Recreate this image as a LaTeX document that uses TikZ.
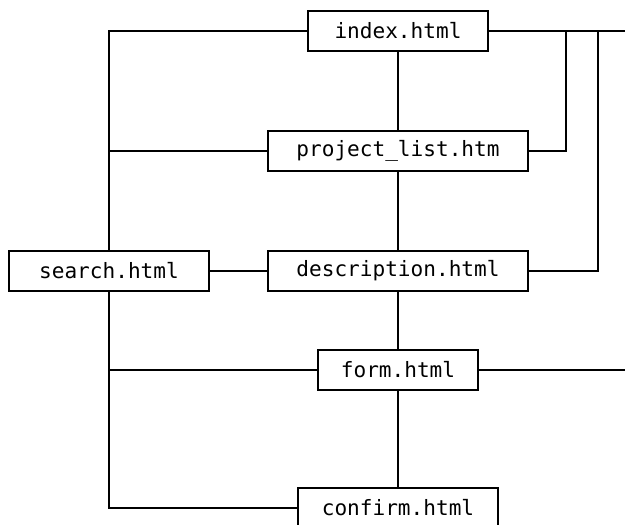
\documentclass[tikz,border=0pt]{standalone}
\usepackage{fontspec}
\setmonofont{DejaVu Sans Mono}
\tikzset{
  page/.style={draw, line width=1pt, fill=white, minimum height=1cm,
    inner sep=0pt, font=\ttfamily\fontsize{15}{18}\selectfont},
  link/.style={line width=1pt}
}
\begin{document}
\begin{tikzpicture}[x=0.025cm, y=-0.025cm]
      \useasboundingbox (0,0) rectangle (625,525);
      % pages
      \node [page, minimum width=4.5cm] (index) at (398,31) {index.html};
      \node [page, minimum width=6.5cm] (plist) at (398,151) {project\_list.htm};
      \node [page, minimum width=5cm] (search) at (109,271) {search.html};
      \node [page, minimum width=6.5cm] (desc) at (398,271) {description.html};
      \node [page, minimum width=4cm] (form) at (398,370) {form.html};
      \node [page, minimum width=5cm] (confirm) at (398,508) {confirm.html};
      \coordinate (j1) at (566,31);
      \coordinate (j2) at (598,31);
      \coordinate (out1) at (625,31);
      \coordinate (out2) at (625,370);
      % links
      \draw [link] (index) -- (plist) -- (desc) -- (form) -- (confirm);
      \draw [link] (search.north) |- (index.west);
      \draw [link] (search.north |- plist.west) -- (plist.west);
      \draw [link] (search.south) |- (confirm.west);
      \draw [link] (search.south |- form.west) -- (form.west);
      \draw [link] (search.east) -- (desc.west);
      \draw [link] (index.east) -- (out1);
      \draw [link] (plist.east) -| (j1);
      \draw [link] (desc.east) -| (j2);
      \draw [link] (form.east) -- (out2);
    \end{tikzpicture}
\end{document}
